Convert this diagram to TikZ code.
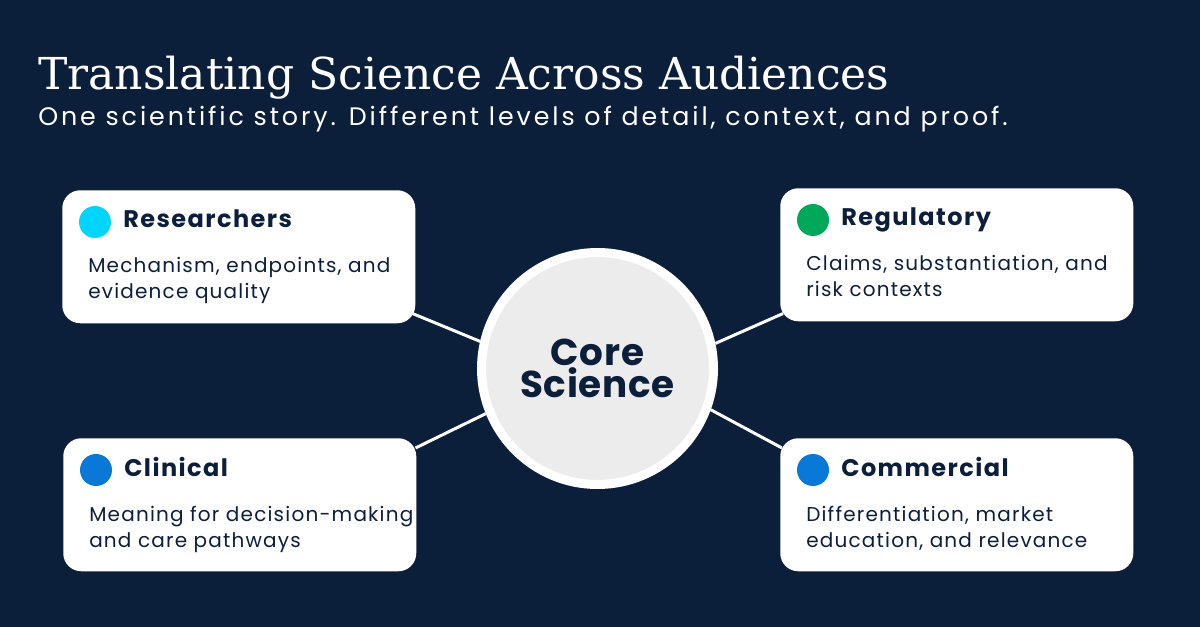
\documentclass[tikz,border=0pt]{standalone}
\usepackage{fontspec}
\setmainfont{Poppins}
\newfontfamily\titlefont{DejaVu Serif}
\usetikzlibrary{calc}
\definecolor{bgNavy}{RGB}{12,31,58}
\definecolor{coreGrey}{RGB}{236,236,236}
\definecolor{dotCyan}{RGB}{0,213,255}
\definecolor{dotGreen}{RGB}{0,168,90}
\definecolor{dotBlue}{RGB}{10,120,215}
\tikzset{
  card/.style={fill=white,rounded corners=13.5pt,minimum width=264.75pt,minimum height=99.75pt,inner sep=0pt,anchor=north west},
  dot/.style={circle,fill=#1,minimum size=24pt,inner sep=0pt},
  cardhead/.style={anchor=base west,inner sep=0pt,text=bgNavy,font=\fontsize{18}{20}\selectfont\bfseries\addfontfeatures{LetterSpace=6}},
  cardtext/.style={anchor=base west,inner sep=0pt,text=bgNavy,align=left,font=\fontsize{15}{19.5}\selectfont\addfontfeatures{LetterSpace=6}},
  link/.style={white,line width=2.25pt},
}

\begin{document}
\begin{tikzpicture}[x=0.75pt,y=-0.75pt]
\useasboundingbox (0,0) rectangle (1200,627);
\fill[bgNavy] (0,0) rectangle (1200,627);
% heading
\node[anchor=base west,inner sep=0pt,text=white,font=\titlefont\fontsize{33}{40}\selectfont] (title) at (38,90) {Translating Science Across Audiences};
\node[anchor=base west,inner sep=0pt,text=white,font=\fontsize{19}{22}\selectfont\addfontfeatures{LetterSpace=11.5}] (subtitle) at (38,126) {One scientific story. Different levels of detail, context, and proof.};
% audience cards
\foreach \nm/\pos/\col/\head/\body in {
  res/{62,190}/dotCyan/Researchers/{Mechanism, endpoints, and\\evidence quality},
  reg/{780,188}/dotGreen/Regulatory/{Claims, substantiation, and\\risk contexts},
  cli/{63,438}/dotBlue/Clinical/{Meaning for decision-making\\and care pathways},
  com/{780,438}/dotBlue/Commercial/{Differentiation, market\\education, and relevance}}{
  \node[card] (\nm) at (\pos) {};
  \node[dot=\col] (\nm-dot) at ($(\nm.north west)+(33,32)$) {};
  \node[cardhead] (\nm-head) at ($(\nm.north west)+(61,38)$) {\head};
  \node[cardtext] (\nm-text) at ($(\nm.north west)+(26,109)$) {\body};
}
% core
\node[circle,draw=white,line width=6.75pt,fill=coreGrey,minimum size=174pt,align=center,text=bgNavy,font=\fontsize{28}{21.5}\selectfont\bfseries\addfontfeatures{LetterSpace=2}] (core) at (597.5,368.5) {Core\\Science};
% links
\draw[link] (core.167) -- ($(res.south east)+(-3,-10)$);
\draw[link] (core.202) -- ($(cli.north east)+(-1,10)$);
\draw[link] (core.12) -- ($(reg.south west)+(3,-8)$);
\draw[link] (core.-20) -- ($(com.north west)+(2,10)$);
\end{tikzpicture}
\end{document}
